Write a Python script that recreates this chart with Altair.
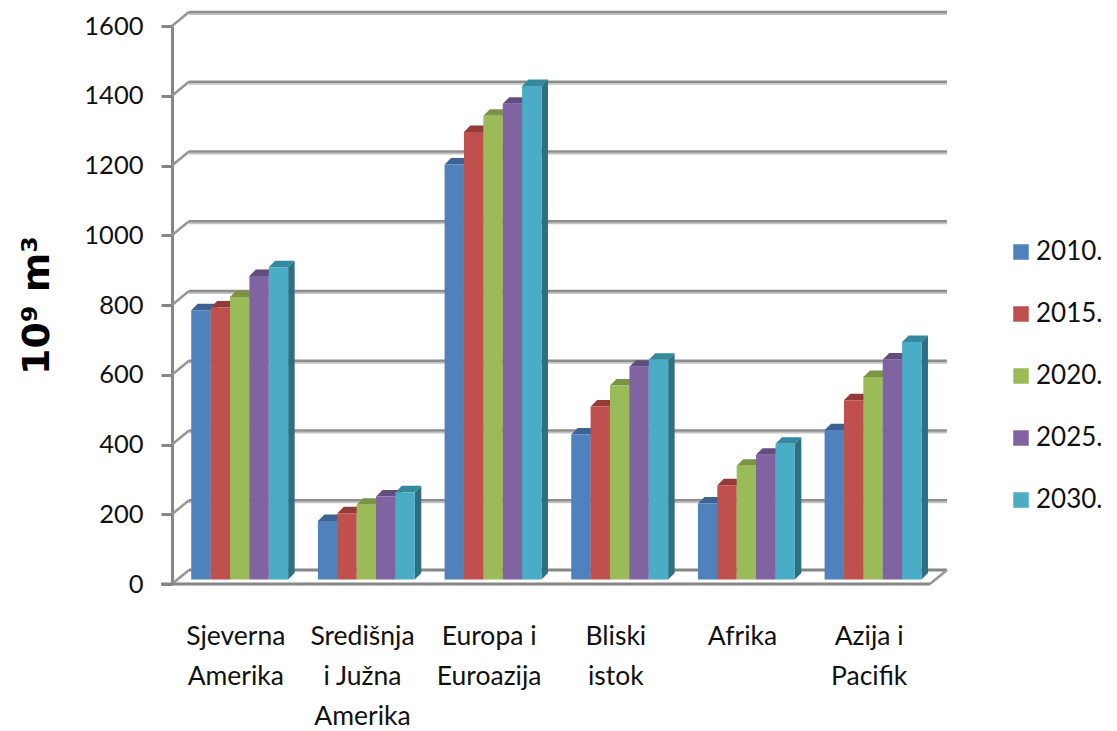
import json
import altair as alt
import pandas as pd

regions = ["Sjeverna|Amerika", "Središnja|i Južna|Amerika", "Europa i|Euroazija", "Bliski|istok", "Afrika", "Azija i|Pacifik"]
years = ["2010.", "2015.", "2020.", "2025.", "2030."]
series = {
    "2010.": [772, 168, 1190, 416, 218, 428],
    "2015.": [780, 190, 1283, 496, 270, 514],
    "2020.": [810, 214, 1330, 556, 326, 581],
    "2025.": [870, 238, 1364, 610, 358, 631],
    "2030.": [895, 250, 1415, 630, 389, 681],
}
front_colors = ["#4F81BD", "#C0504D", "#9BBB59", "#8064A2", "#4BACC6"]
side_colors = ["#355A8A", "#8A3533", "#6F8A3C", "#5A4577", "#2F6F82"]
top_colors = ["#3A6394", "#943A38", "#7A9443", "#634D80", "#338A9F"]
gridvals = [200, 400, 600, 800, 1000, 1200, 1400, 1600]
ticks = [0, 200, 400, 600, 800, 1000, 1200, 1400, 1600]

# frame of the pseudo-3D drawing
FRONT_W = 758
PLOT_W = 775
PLOT_H = 558
SCALE_W = 760
BACK_X = 17
BACK_Y = -14
BAR_START = 0.152
BAR_W = 0.153
DX = 6.5 / (SCALE_W / 6)
DV = 6.5 / (PLOT_H / 1600)
BASE = 4.5 / (PLOT_H / 1600)

rows = []
pid = 0
for i in range(len(regions)):
    for j, yr in enumerate(years):
        v = series[yr][i] + BASE
        x0 = i + BAR_START + j * BAR_W
        x1 = x0 + BAR_W
        polys = [
            (yr + " bok", [(x1, v, BASE), (x1 + DX, v + DV, BASE + DV)]),
            (yr + " vrh", [(x0, v, v), (x0 + DX, v + DV, v), (x1, v + DV, v), (x1 + DX, v + DV, v + DV)]),
            (yr, [(x0, v, BASE), (x1, v, BASE)]),
        ]
        for face, pts in polys:
            for px, a, b in pts:
                rows.append({"id": pid, "face": face, "x": px, "a": a, "b": b})
            pid += 1
faces = pd.DataFrame(rows)

domain = years + [y + " bok" for y in years] + [y + " vrh" for y in years]
colors = front_colors + side_colors + top_colors

label_expr = "split(" + json.dumps(regions, ensure_ascii=False) + "[floor(datum.value)], '|')"
yscale = alt.Scale(domain=[0, 1600], nice=False, zero=False)
xscale = alt.Scale(domain=[0, 6], range=[0, SCALE_W], nice=False, zero=False)
AXC = "#868686"
FONT = "Lato"

grid_df = pd.DataFrame({"v": gridvals})
floor_df = pd.DataFrame({"v": [0]})

yaxis = alt.Axis(values=ticks, format="d", title="10⁹ m³", titleFont="DejaVu Sans", titleFontWeight="bold",
                 titleFontSize=38, titleColor="#000000", titleX=-135, titleY=279, titleAlign="center",
                 titleBaseline="middle", titleAngle=270, grid=False, domainColor=AXC, domainWidth=3,
                 tickColor=AXC, tickWidth=3, tickSize=11, labelFont=FONT, labelFontSize=25.5,
                 labelColor="#111111", labelPadding=18, labelOverlap=False, labelFlush=False,
                 labelBound=False)
xaxis = alt.Axis(values=[0.5, 1.5, 2.5, 3.5, 4.5, 5.5], labelExpr=label_expr, title=None,
                 domain=False, ticks=False, grid=False, labelFont=FONT, labelFontSize=26.5,
                 labelColor="#111111", labelPadding=39, labelLineHeight=40, labelAlign="center",
                 labelBaseline="top", labelOverlap=False, labelFlush=False, labelBound=False)

grid_shadow = alt.Chart(grid_df).mark_rule(color="#c4c4c4", strokeWidth=2, yOffset=BACK_Y + 2).encode(
    x=alt.value(BACK_X), x2=alt.value(PLOT_W), y=alt.Y("v:Q", scale=yscale, axis=yaxis))
grid = alt.Chart(grid_df).mark_rule(color="#8e8e8e", strokeWidth=2.5, yOffset=BACK_Y).encode(
    x=alt.value(BACK_X), x2=alt.value(PLOT_W), y=alt.Y("v:Q", scale=yscale))
back_floor = alt.Chart(floor_df).mark_rule(color=AXC, strokeWidth=3, yOffset=BACK_Y).encode(
    x=alt.value(BACK_X), x2=alt.value(PLOT_W), y=alt.Y("v:Q", scale=yscale))
diag = alt.Chart(pd.DataFrame({"v": ticks})).mark_rule(color="#969696", strokeWidth=2.5, y2Offset=BACK_Y).encode(
    x=alt.value(0), x2=alt.value(BACK_X), y=alt.Y("v:Q", scale=yscale), y2="v:Q")
diag_r = alt.Chart(floor_df).mark_rule(color="#969696", strokeWidth=2.5, y2Offset=BACK_Y).encode(
    x=alt.value(FRONT_W), x2=alt.value(PLOT_W), y=alt.Y("v:Q", scale=yscale), y2="v:Q")
floor = alt.Chart(floor_df).mark_rule(color=AXC, strokeWidth=3).encode(
    x=alt.value(-11), x2=alt.value(FRONT_W), y=alt.Y("v:Q", scale=yscale))

bars = alt.Chart(faces).mark_area(interpolate="linear", orient="vertical").encode(
    x=alt.X("x:Q", scale=xscale, axis=xaxis),
    y=alt.Y("a:Q", scale=yscale),
    y2="b:Q",
    detail="id:N",
    color=alt.Color("face:N", scale=alt.Scale(domain=domain, range=colors),
                    legend=alt.Legend(values=years, orient="none", legendX=836, legendY=213, title=None,
                                      symbolType="square", symbolSize=240, symbolStrokeWidth=0,
                                      labelFont=FONT, labelFontSize=26, labelColor="#111111", rowPadding=36,
                                      labelOffset=2, padding=0)),
)

chart = alt.layer(grid_shadow, grid, back_floor, diag, diag_r, floor, bars).properties(
    width=PLOT_W, height=PLOT_H,
    padding={"left": 164, "top": 18, "right": 162, "bottom": 146},
    autosize=alt.AutoSizeParams(type="none"),
).configure_view(stroke=None)

chart.save("out.html", embed_options={"renderer": "svg", "actions": False})
